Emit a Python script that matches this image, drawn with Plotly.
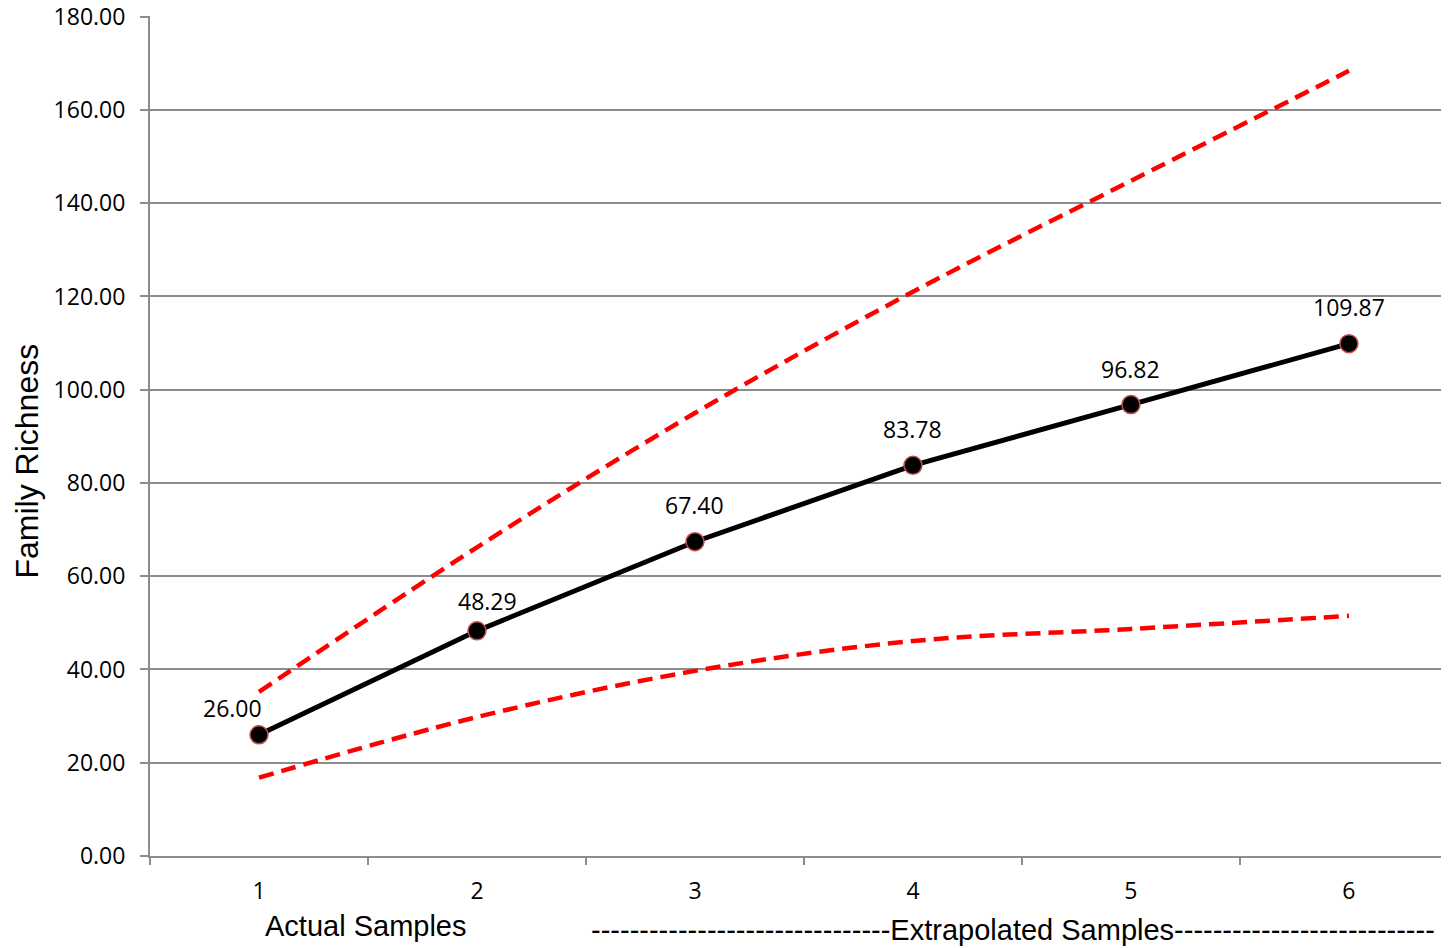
import plotly.graph_objects as go

samples = [1, 2, 3, 4, 5, 6]
tick_text = ["1", "2", "3", "4", "5", "6"]
richness = [26.00, 48.29, 67.40, 83.78, 96.82, 109.87]
upper_ci = [35.2, 66.2, 95.0, 121.0, 144.8, 168.4]
lower_ci = [16.8, 29.8, 39.7, 46.1, 48.7, 51.5]
y_ticks = [0, 20, 40, 60, 80, 100, 120, 140, 160, 180]

# label offsets (style)
label_dx = [-26, 11, 0, 0, 0, 0]
label_dy = [27, 30, 37, 36, 36, 37]

grid_color = "#8c8c8c"
num_font = dict(family="Open Sans, Noto Sans, sans-serif", size=23, color="#000000")
title_font = dict(family="Liberation Sans, Arial, sans-serif", size=29, color="#000")

fig = go.Figure()
for ci in (upper_ci, lower_ci):
    fig.add_trace(go.Scatter(
        x=samples, y=ci, mode="lines",
        line=dict(color="#ff0000", width=4.5, dash="15px,8px", shape="spline", smoothing=1.0),
        hoverinfo="skip", showlegend=False,
    ))
fig.add_trace(go.Scatter(
    x=samples, y=richness, mode="lines+markers",
    line=dict(color="#000000", width=5),
    marker=dict(size=18, color="#000000", line=dict(color="#c0504d", width=1.5)),
    showlegend=False,
))

for xv, yv, dx, dy in zip(samples, richness, label_dx, label_dy):
    fig.add_annotation(x=xv, y=yv, text=f"{yv:.2f}", showarrow=False,
                       xshift=dx, yshift=dy, font=num_font,
                       xanchor="center", yanchor="middle")

fig.add_annotation(xref="paper", yref="paper", x=-0.0947, y=0.4708,
                   text="Family Richness", textangle=-90, showarrow=False,
                   font=dict(family="Liberation Sans, Arial, sans-serif", size=32, color="#000"),
                   xanchor="center", yanchor="middle")
fig.add_annotation(xref="paper", yref="paper", x=0.1663, y=-0.0834,
                   text="Actual Samples", showarrow=False, font=title_font,
                   xanchor="center", yanchor="middle")
fig.add_annotation(xref="paper", yref="paper", x=0.6644, y=-0.0882,
                   text="-" * 31 + "Extrapolated Samples" + "-" * 27, showarrow=False,
                   font=title_font, xanchor="center", yanchor="middle")

fig.update_layout(
    width=1441, height=940,
    margin=dict(l=142, r=0, t=8, b=92, autoexpand=False),
    paper_bgcolor="white", plot_bgcolor="white",
    xaxis=dict(
        range=[0.5, 6.459], tickmode="array", tickvals=samples, ticktext=tick_text,
        ticks="", showgrid=False, zeroline=False, automargin=False,
        showline=True, linecolor=grid_color, linewidth=2,
        tickfont=num_font, ticklabelstandoff=13,
        minor=dict(tickmode="array", tickvals=[0.5, 1.5, 2.5, 3.5, 4.5, 5.5],
                   ticks="outside", ticklen=7, tickcolor=grid_color, tickwidth=1.5, showgrid=False),
    ),
    yaxis=dict(
        range=[0, 180.15], tickmode="array", tickvals=y_ticks,
        tickformat=".2f", showgrid=True, gridcolor=grid_color, gridwidth=1.5,
        zeroline=False, showline=True, linecolor=grid_color, linewidth=2, automargin=False,
        ticks="outside", ticklen=8, tickcolor=grid_color, tickwidth=1.5,
        tickfont=num_font, ticklabelstandoff=10, ticklabeloverflow="allow",
    ),
)

fig.write_html("out.html")
